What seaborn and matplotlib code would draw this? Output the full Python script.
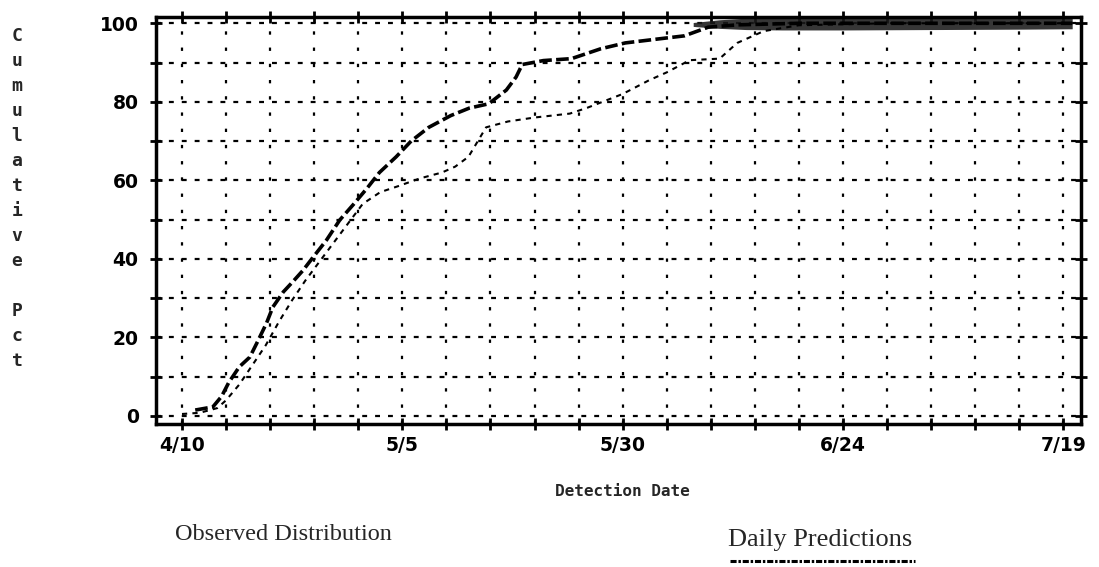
import numpy as np
import pandas as pd
import seaborn as sns
import matplotlib
matplotlib.use("Agg")
import matplotlib.pyplot as plt
from matplotlib.lines import Line2D

# ---- data (days after 4/10) ----
x_tick_days = [0, 25, 50, 75, 100]
x_tick_labels = ["4/10", "5/5", "5/30", "6/24", "7/19"]
y_ticks = [0, 20, 40, 60, 80, 100]

obs_day = [1.5, 3.5, 4.5, 5.3, 6.5, 7.7, 8.5, 9.6, 10.3, 11.5, 12.5, 13.7, 14.9, 16.4, 17.9,
           19.5, 21.0, 22.4, 24.3, 26.0, 28.0, 30.5, 32.6, 34.8, 36.8, 37.9, 38.6, 41.0, 44.2,
           47.5, 50.3, 54.0, 57.0, 59.7, 63.0, 70.0, 80.0, 90.0, 101.0]
obs_pct = [1.5, 2.3, 5.0, 8.5, 12.5, 15.0, 18.6, 23.7, 27.7, 31.6, 34.0, 37.0, 40.5, 44.8, 49.9,
           54.0, 58.0, 62.0, 66.0, 70.0, 73.5, 76.5, 78.4, 79.5, 83.0, 86.3, 89.5, 90.5, 91.0,
           93.5, 95.0, 96.0, 96.8, 99.0, 99.6, 100.0, 100.0, 100.0, 100.0]

pred_day = [0.0, 2.0, 4.0, 5.0, 6.5, 8.0, 9.5, 11.0, 12.5, 14.0, 15.5, 17.0, 18.5, 20.5, 22.5,
            24.5, 27.0, 29.5, 31.0, 32.5, 34.5, 37.0, 40.0, 44.0, 46.0, 50.0, 53.0, 55.0, 57.6,
            61.0, 63.0, 66.0, 70.0, 80.0, 90.0, 101.0]
pred_pct = [0.5, 0.8, 2.0, 4.0, 8.0, 13.0, 18.0, 24.0, 29.5, 34.5, 39.0, 43.5, 48.0, 54.0, 57.0,
            58.5, 60.5, 62.0, 63.5, 66.0, 73.5, 75.0, 76.0, 77.0, 78.5, 82.0, 85.5, 87.5, 90.6,
            91.0, 95.0, 98.0, 99.5, 100.0, 100.0, 100.0]

band_day = [58.0, 61.0, 64.0, 68.0, 75.0, 85.0, 95.0, 101.0]
band_lo = [99.2, 98.7, 98.4, 98.3, 98.3, 98.4, 98.5, 98.6]
band_hi = [100.2, 100.9, 101.3, 101.5, 101.5, 101.5, 101.5, 101.5]

obs_df = pd.DataFrame({"day": obs_day, "pct": obs_pct})
pred_df = pd.DataFrame({"day": pred_day, "pct": pred_pct})

sns.set_theme(style="white")
plt.rcParams['font.family'] = ['DejaVu Sans']

W, H = 1099, 567
fig = plt.figure(figsize=(W / 100, H / 100), dpi=100)
ax = fig.add_axes([156 / W, 1 - 424 / H, (1081 - 156) / W, (424 - 17) / H])

ax.set_xlim(-2.95, 102.0)
ax.set_ylim(-2.05, 101.6)

# grid
ax.set_axisbelow(True)
ax.set_xticks(x_tick_days)
ax.set_xticklabels(x_tick_labels)
ax.set_xticks(np.arange(0, 101, 5), minor=True)
ax.set_yticks(y_ticks)
ax.set_yticks(np.arange(0, 101, 10), minor=True)
ax.grid(True, which="both", axis="y", color="black", lw=1.6, linestyle=(0, (2.2, 3.6)))
ax.grid(True, which="both", axis="x", color="black", lw=1.6, linestyle=(0, (1.5, 5.8)))

# data
ax.fill_between(band_day, band_lo, band_hi, color="#1a1a1a", alpha=0.88, lw=0)
sns.lineplot(data=pred_df, x="day", y="pct", ax=ax, color="black", lw=1.5,
             linestyle=(0, (2.5, 2.5)), sort=False)
sns.lineplot(data=obs_df, x="day", y="pct", ax=ax, color="black", lw=2.6,
             linestyle=(0, (3.5, 1.2)), sort=False)

ax.set_xlabel("")
ax.set_ylabel("")

for s in ax.spines.values():
    s.set_visible(True)
    s.set_color("black")
    s.set_linewidth(2.5)

ax.tick_params(which="both", direction="inout", length=9, width=2, color="black",
               top=True, right=True, bottom=True, left=True)
ax.tick_params(axis="x", which="major", labelsize=13.5, pad=4, labelcolor="black")
ax.tick_params(axis="y", which="major", labelsize=13.5, pad=8, labelcolor="black")
for lab in ax.get_xticklabels() + ax.get_yticklabels():
    lab.set_fontweight("bold")

# axis titles
fig.text(622 / W, 1 - 492 / H, "Detection Date", ha="center", va="center",
         fontsize=11.5, fontweight="bold", family=["DejaVu Sans Mono"])
fig.text(17 / W, 1 - 27 / H, "\n".join(list("Cumulative") + [""] + list("Pct")),
         ha="center", va="top", fontsize=13, fontweight="bold", linespacing=1.5,
         family=["DejaVu Sans Mono"])

# legend texts
fig.text(175 / W, 1 - 535 / H, "Observed Distribution", ha="left", va="center",
         fontsize=17.5, family=["Liberation Serif"])
fig.text(728 / W, 1 - 540 / H, "Daily Predictions", ha="left", va="center",
         fontsize=19, family=["Liberation Serif"])
fig.add_artist(Line2D([730 / W, 915 / W], [1 - 561 / H, 1 - 561 / H], transform=fig.transFigure,
                      color="black", lw=2.2, linestyle=(0, (2, 0.6, 0.8, 0.6))))

fig.savefig("out.png", dpi=100)
